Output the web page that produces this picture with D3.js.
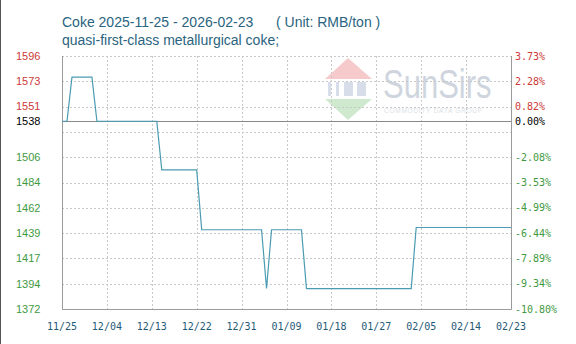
<!DOCTYPE html>
<html>
<head>
<meta charset="utf-8">
<script src="https://cdn.jsdelivr.net/npm/d3@7/dist/d3.min.js"></script>
<style>
  body { margin: 0; background: #fff; }
  svg { display: block; }
</style>
</head>
<body>
<div id="chart"></div>
<script>
// --- dados ---
const priceDates = ["2025-11-25","2025-11-26","2025-11-27","2025-12-01","2025-12-02","2025-12-14","2025-12-15",
  "2025-12-22","2025-12-23","2026-01-04","2026-01-05","2026-01-06","2026-01-12","2026-01-13",
  "2026-02-03","2026-02-04","2026-02-23"];
const prices = [1538,1538,1577,1577,1538,1538,1495,1495,1442,1442,1390,1442,1442,1390,1390,1444,1444];

const basePrice = 1538;
const gridValues = [1595.7,1573.3,1550.9,1528.5,1506.1,1483.8,1461.4,1439.0,1416.6,1394.3,1371.9];
const leftLabels = ["1596","1573","1551","","1506","1484","1462","1439","1417","1394","1372"];
const rightLabels = ["3.73%","2.28%","0.82%","","-2.08%","-3.53%","-4.99%","-6.44%","-7.89%","-9.34%","-10.80%"];
const xTickDates = ["2025-11-25","2025-12-04","2025-12-13","2025-12-22","2025-12-31","2026-01-09",
  "2026-01-18","2026-01-27","2026-02-05","2026-02-14","2026-02-23"];
const xTickLabels = ["11/25","12/04","12/13","12/22","12/31","01/09","01/18","01/27","02/05","02/14","02/23"];

const titleText = "Coke 2025-11-25 - 2026-02-23";
const unitText = "( Unit: RMB/ton )";
const subTitle = "quasi-first-class metallurgical coke;";

// --- layout ---
const W = 576, H = 344;
const plot = { left: 62, right: 511, top: 56, bottom: 309 };
const parse = d3.utcParse("%Y-%m-%d");

const x = d3.scaleUtc([parse(xTickDates[0]), parse(xTickDates[xTickDates.length - 1])], [plot.left, plot.right]);
const y = d3.scaleLinear([gridValues[gridValues.length - 1], gridValues[0]], [plot.bottom, plot.top]);

const svg = d3.select("#chart").append("svg")
  .attr("width", W).attr("height", H)
  .attr("viewBox", [0, 0, W, H]);

// moldura esquerda
svg.append("line").attr("x1", 0.5).attr("x2", 0.5).attr("y1", 0).attr("y2", H)
  .attr("stroke", "#555").attr("stroke-width", 1);

// --- marca d'água SunSirs ---
const wm = svg.append("g").attr("opacity", 0.55);
wm.append("path").attr("d", "M348,58 L372,79 L325,79 Z").attr("fill", "#f0a0a0");
wm.append("path").attr("d", "M325,99 L372,99 L348,120 Z").attr("fill", "#a8d8a8");
[[328, 3], [336, 3], [344, 9], [357, 9]].forEach(([bx, bw]) => {
  wm.append("rect").attr("x", bx).attr("y", 82).attr("width", bw).attr("height", 14).attr("fill", "#b8c4d8");
});
wm.append("text").attr("transform", "translate(383,98) scale(1,1.3)")
  .attr("font-family", "Liberation Sans, Arial, sans-serif").attr("font-size", 31)
  .attr("fill", "#a9b4c4").text("SunSirs");
wm.append("text").attr("x", 384).attr("y", 113)
  .attr("font-family", "Liberation Sans, Arial, sans-serif").attr("font-size", 6.5)
  .attr("letter-spacing", 0.75)
  .attr("fill", "#c0c8d2").text("COMMODITY DATA GROUP");

// --- grelha ---
svg.append("g").selectAll("line").data(gridValues).join("line")
  .attr("x1", plot.left).attr("x2", plot.right)
  .attr("y1", d => Math.round(y(d)) + 0.5).attr("y2", d => Math.round(y(d)) + 0.5)
  .attr("stroke", "#c8c8c8").attr("stroke-dasharray", "2,2");

svg.append("g").selectAll("line").data(xTickDates.slice(1, -1)).join("line")
  .attr("x1", d => Math.round(x(parse(d))) + 0.5).attr("x2", d => Math.round(x(parse(d))) + 0.5)
  .attr("y1", plot.top).attr("y2", plot.bottom)
  .attr("stroke", "#c8c8c8").attr("stroke-dasharray", "2,2");

// linha base
svg.append("line")
  .attr("x1", plot.left).attr("x2", plot.right)
  .attr("y1", Math.round(y(basePrice)) + 0.5).attr("y2", Math.round(y(basePrice)) + 0.5)
  .attr("stroke", "#8a8a8a");

// bordas
svg.append("path")
  .attr("d", `M${plot.left + 0.5},${plot.top} V${plot.bottom + 0.5} H${plot.right + 0.5} V${plot.top}`)
  .attr("fill", "none").attr("stroke", "#9a9a9a");

// --- série ---
const series = priceDates.map((d, i) => ({ date: parse(d), value: prices[i] }));
const line = d3.line().x(d => x(d.date)).y(d => y(d.value));
svg.append("path").datum(series)
  .attr("d", line)
  .attr("fill", "none").attr("stroke", "#4a9bb2").attr("stroke-width", 1.2);

// --- rótulos eixo Y ---
const colorFor = v => v > basePrice ? "#cc3a3a" : (v < basePrice ? "#3f9a3f" : "#000");
const leftG = svg.append("g")
  .attr("font-family", "Liberation Sans, Arial, sans-serif").attr("font-size", 11);
leftG.selectAll("text").data(gridValues.map((v, i) => ({ v, t: leftLabels[i] })).filter(d => d.t)).join("text")
  .attr("x", 16).attr("y", d => y(d.v)).attr("dy", "0.35em")
  .attr("fill", d => colorFor(d.v)).text(d => d.t);
leftG.append("text").attr("x", 16).attr("y", y(basePrice)).attr("dy", "0.35em")
  .attr("fill", "#000").text(String(basePrice));

const rightG = svg.append("g")
  .attr("font-family", "DejaVu Sans Mono, monospace").attr("font-size", 10);
rightG.selectAll("text").data(gridValues.map((v, i) => ({ v, t: rightLabels[i] })).filter(d => d.t)).join("text")
  .attr("x", plot.right + 4).attr("y", d => y(d.v)).attr("dy", "0.35em")
  .attr("fill", d => colorFor(d.v)).text(d => d.t);
rightG.append("text").attr("x", plot.right + 4).attr("y", y(basePrice)).attr("dy", "0.35em")
  .attr("fill", "#000").text("0.00%");

// --- rótulos eixo X ---
svg.append("g")
  .attr("font-family", "DejaVu Sans Mono, monospace").attr("font-size", 10)
  .attr("fill", "#1f5a78").attr("text-anchor", "middle")
  .selectAll("text").data(xTickDates).join("text")
  .attr("x", d => x(parse(d))).attr("y", 330)
  .text((d, i) => xTickLabels[i]);

// --- títulos ---
const tG = svg.append("g")
  .attr("font-family", "Liberation Sans, Arial, sans-serif").attr("font-size", 14)
  .attr("fill", "#2a6480");
tG.append("text").attr("x", 62).attr("y", 27).text(titleText);
tG.append("text").attr("x", 276).attr("y", 27).text(unitText);
tG.append("text").attr("x", 62).attr("y", 45).text(subTitle);
</script>
</body>
</html>
